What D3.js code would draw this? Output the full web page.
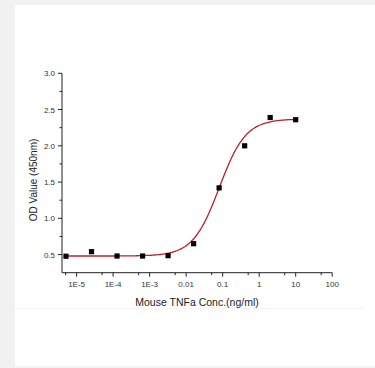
<!DOCTYPE html>
<html><head><meta charset="utf-8">
<script src="https://cdn.jsdelivr.net/npm/d3@7"></script>
<style>html,body{margin:0;padding:0;background:#f1f1f1;}svg{display:block;}</style>
</head><body>
<svg id="chart" width="375" height="368"></svg>
<script>
// Data
const concentrations = [5.12e-6, 2.56e-5, 1.28e-4, 6.4e-4, 3.2e-3, 0.016, 0.08, 0.4, 2, 10];
const odValues = [0.477, 0.54, 0.48, 0.48, 0.485, 0.65, 1.42, 2.0, 2.39, 2.36];
const xTickValues = [1e-5, 1e-4, 1e-3, 0.01, 0.1, 1, 10, 100];
const xTickLabels = ["1E-5", "1E-4", "1E-3", "0.01", "0.1", "1", "10", "100"];
const xMinorTicks = [5e-6, 5e-5, 5e-4, 5e-3, 0.05, 0.5, 5, 50];
const yTickValues = [0.5, 1.0, 1.5, 2.0, 2.5, 3.0];
const yMinorTicks = [0.75, 1.25, 1.75, 2.25, 2.75];
// 4-parameter logistic fit
const fitBottom = 0.48, fitTop = 2.37, fitEC50 = 0.081, fitHill = 1.2;

const svg = d3.select("#chart");
svg.append("rect").attr("x", 15).attr("y", 5).attr("width", 362).attr("height", 361).attr("fill", "#fff");
svg.append("line").attr("x1", 15).attr("x2", 365).attr("y1", 308.5).attr("y2", 308.5).attr("stroke", "#f5f5f5");

const x = d3.scaleLog().domain([Math.pow(10, -5.40), 100]).range([62, 332.2]);
const y = d3.scaleLinear().domain([0.25, 3.0]).range([272.7, 73.3]);

const font = "Arial, 'Liberation Sans', sans-serif";
const axisColor = "#222";

// X axis
const gx = svg.append("g").attr("transform", "translate(0,272.7)");
gx.append("line").attr("x1", 62).attr("x2", 332.2).attr("stroke", axisColor).attr("stroke-width", 1);
gx.selectAll(".maj").data(xTickValues).join("line")
  .attr("x1", d => x(d)).attr("x2", d => x(d)).attr("y1", 0).attr("y2", 4)
  .attr("stroke", axisColor);
gx.selectAll(".min").data(xMinorTicks).join("line").attr("class", "min")
  .attr("x1", d => x(d)).attr("x2", d => x(d)).attr("y1", 0).attr("y2", 2.5)
  .attr("stroke", axisColor);
gx.selectAll("text").data(xTickValues).join("text")
  .attr("x", d => x(d)).attr("y", 14.5).attr("text-anchor", "middle")
  .attr("font-family", font).attr("font-size", 8).attr("fill", "#333")
  .text((d, i) => xTickLabels[i]);

// Y axis
const gy = svg.append("g").attr("transform", "translate(62,0)");
gy.append("line").attr("y1", 73.3).attr("y2", 272.7).attr("stroke", axisColor);
gy.selectAll(".maj").data(yTickValues).join("line")
  .attr("x1", -4).attr("x2", 0).attr("y1", d => y(d)).attr("y2", d => y(d)).attr("stroke", axisColor);
gy.selectAll(".min").data(yMinorTicks).join("line").attr("class", "min")
  .attr("x1", -2.5).attr("x2", 0).attr("y1", d => y(d)).attr("y2", d => y(d)).attr("stroke", axisColor);
gy.selectAll("text").data(yTickValues).join("text")
  .attr("x", -7).attr("y", d => y(d) + 3).attr("text-anchor", "end")
  .attr("font-family", font).attr("font-size", 8).attr("fill", "#333")
  .text(d => d.toFixed(1));

// Titles
svg.append("text").attr("x", 197).attr("y", 305.5).attr("text-anchor", "middle")
  .attr("font-family", font).attr("font-size", 10.5).attr("fill", "#222")
  .text("Mouse TNFa Conc.(ng/ml)");
svg.append("text").attr("transform", "translate(37,180) rotate(-90)").attr("text-anchor", "middle")
  .attr("font-family", font).attr("font-size", 10).attr("fill", "#222")
  .text("OD Value (450nm)");

// Fit curve
const curveX = d3.range(0, 201).map(i => Math.pow(10, Math.log10(concentrations[0]) + i * (Math.log10(concentrations[concentrations.length-1]) - Math.log10(concentrations[0])) / 200));
const fit = c => fitBottom + (fitTop - fitBottom) / (1 + Math.pow(fitEC50 / c, fitHill));
svg.append("path").datum(curveX)
  .attr("d", d3.line().x(d => x(d)).y(d => y(fit(d))).curve(d3.curveBasis))
  .attr("fill", "none").attr("stroke", "#b8232b").attr("stroke-width", 1.3);

// Points
svg.selectAll(".pt").data(concentrations).join("rect").attr("class", "pt")
  .attr("x", d => x(d) - 2.6).attr("y", (d, i) => y(odValues[i]) - 2.6)
  .attr("width", 5.2).attr("height", 5.2).attr("fill", "#000");
</script>
</body></html>
